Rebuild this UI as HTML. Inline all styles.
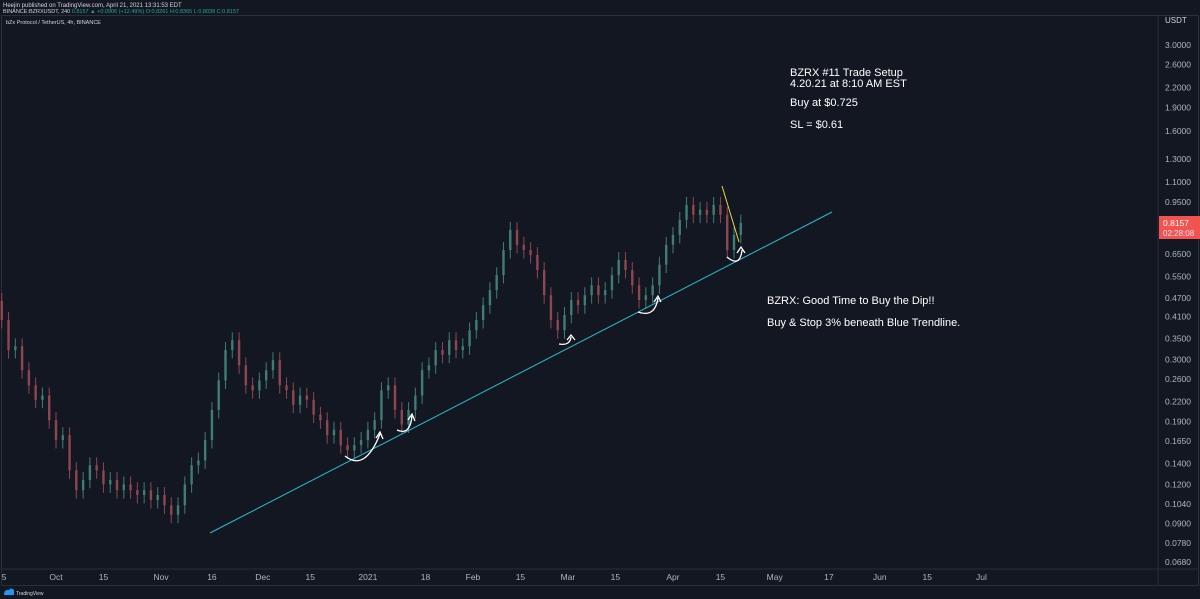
<!DOCTYPE html>
<html><head><meta charset="utf-8"><style>
body{margin:0;background:#131722;width:1200px;height:599px;overflow:hidden;font-family:"Liberation Sans",sans-serif}
svg{display:block}
</style></head><body>
<svg id="chart" width="1200" height="599" viewBox="0 0 1200 599" xmlns="http://www.w3.org/2000/svg">
<rect x="0" y="0" width="1200" height="599" fill="#131722"/>
<text x="3" y="7" fill="#d1d4dc" font-size="6">Heejin published on TradingView.com, April 21, 2021 13:31:53 EDT</text>
<text x="3" y="13" fill="#d1d4dc" font-size="5.5">BINANCE:BZRXUSDT, 240 <tspan fill="#26a69a">0.8157 ▲ +0.0906 (+12.49%) O:0.8261 H:0.8365 L:0.8038 C:0.8157</tspan></text>
<rect x="1.5" y="15.5" width="1197" height="570" fill="none" stroke="#2a2e39"/>
<line x1="1158" y1="15" x2="1158" y2="585" stroke="#2a2e39"/>
<line x1="1" y1="569" x2="1199" y2="569" stroke="#2a2e39"/>
<text x="6" y="24" fill="#d1d4dc" font-size="5.5">bZx Protocol / TetherUS, 4h, BINANCE</text>
<text x="1165" y="23" fill="#d1d4dc" font-size="8">USDT</text>
<g id="yaxis"></g>
<g id="xaxis"></g>
<g id="candles"></g>
<line x1="210" y1="533" x2="832" y2="212" stroke="#2bbdcc" stroke-width="1"/>
<line x1="722" y1="186" x2="739" y2="242" stroke="#e6d84a" stroke-width="1"/>
<g fill="none" stroke="#fff" stroke-width="1.3">
<path d="M345 456 Q365 472 380 434 M376 438 L380 432 L383 439"/>
<path d="M397 430 Q410 436 412 416 M408 420 L412 414 L415 421"/>
<path d="M559 344 Q570 346 571 337 M567 340 L571 335 L575 340"/>
<path d="M638 312 Q655 318 658 298 M654 302 L658 296 L661 302"/>
<path d="M727 257 Q740 268 742 250 M737 253 L741 247 L745 253"/>
</g>
<g fill="#fff" font-size="11">
<text x="790" y="76">BZRX #11 Trade Setup</text>
<text x="790" y="87">4.20.21 at 8:10 AM EST</text>
<text x="790" y="106">Buy at $0.725</text>
<text x="790" y="128">SL = $0.61</text>
</g>
<g fill="#fff" font-size="11">
<text x="767" y="304">BZRX: Good Time to Buy the Dip!!</text>
<text x="767" y="326">Buy &amp; Stop 3% beneath Blue Trendline.</text>
</g>
<g>
<rect x="1159" y="216" width="41" height="23" fill="#f05350"/>
<text x="1163" y="226" fill="#fff" font-size="8.5">0.8157</text>
<text x="1163" y="236" fill="#fde" font-size="8">02:28:08</text>
</g>
<g>
<path d="M4 595 Q4 589 9 590 Q11 587 14 590 L14 595 Z" fill="#2196f3"/>
<text x="16" y="595" fill="#d1d4dc" font-size="5">TradingView</text>
</g>
</svg>
<script>
const closes=[0.400,0.321,0.33,0.277,0.248,0.223,0.23,0.192,0.166,0.172,0.133,0.115,0.124,0.138,0.133,0.12,0.124,0.115,0.12,0.115,0.111,0.115,0.107,0.111,0.103,0.096,0.103,0.12,0.138,0.143,0.166,0.207,0.257,0.321,0.345,0.287,0.248,0.239,0.257,0.277,0.298,0.248,0.239,0.215,0.23,0.223,0.2,0.192,0.172,0.179,0.16,0.154,0.16,0.166,0.179,0.192,0.239,0.248,0.207,0.186,0.207,0.23,0.277,0.287,0.321,0.31,0.345,0.321,0.33,0.371,0.4,0.446,0.498,0.556,0.668,0.774,0.694,0.668,0.644,0.577,0.48,0.4,0.371,0.415,0.463,0.446,0.48,0.516,0.48,0.498,0.556,0.621,0.577,0.516,0.463,0.48,0.516,0.6,0.694,0.746,0.833,0.93,0.865,0.897,0.865,0.93,0.865,0.668,0.746,0.8157];
const firstOpen=0.46;
const priceTicks=[3.0,2.6,2.2,1.9,1.6,1.3,1.1,0.95,0.65,0.55,0.47,0.41,0.35,0.30,0.26,0.22,0.19,0.165,0.14,0.12,0.104,0.09,0.078,0.068];
const dateTicks=[-16,0,14,31,46,61,75,92,109,123,137,151,165,182,196,212,228,243,257,273];
const dateLabels=["5","Oct","15","Nov","16","Dec","15","2021","18","Feb","15","Mar","15","Apr","15","May","17","Jun","15","Jul"];
const startDay=-16, stepDays=2;
const NS="http://www.w3.org/2000/svg";
function yOf(v){return 45+(Math.log(3)-Math.log(v))*136.5;}
function xOf(d){return 56+d*3.39;}
function mk(t,a){const e=document.createElementNS(NS,t);for(const k in a)e.setAttribute(k,a[k]);return e;}
const ya=document.getElementById('yaxis');
priceTicks.forEach(v=>{const t=mk('text',{x:1165,y:yOf(v)+3,fill:'#b2b5be','font-size':8.5});


t.textContent=v.toFixed(4);ya.appendChild(t);});
const xa=document.getElementById('xaxis');
dateTicks.forEach((d,i)=>{const t=mk('text',{x:xOf(d),y:580,fill:'#b2b5be','font-size':8.5,'text-anchor':i==0?'start':'middle'});


t.textContent=dateLabels[i];xa.appendChild(t);});
const cg=document.getElementById('candles');
closes.forEach((c,i)=>{const o=i==0?firstOpen:closes[i-1];const up=c>=o;const col=up?'#3f7d74':'#8e4650';
const x=xOf(startDay+i*stepDays);const hi=Math.max(o,c)*1.06,lo=Math.min(o,c)*0.94;
const w=mk('line',{x1:x,x2:x,y1:yOf(hi),y2:yOf(lo),stroke:col,'stroke-width':1});


cg.appendChild(w);
const y1=yOf(Math.max(o,c)),y2=yOf(Math.min(o,c));
const b=mk('rect',{x:x-1.2,y:y1,width:2.4,height:Math.max(1,y2-y1),fill:col});


cg.appendChild(b);});
</script>
</body></html>
